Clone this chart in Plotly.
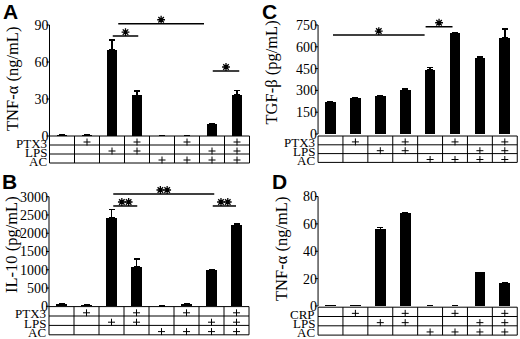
import plotly.graph_objects as go

W, H = 520, 339

# ---------------- data ----------------
conditions = list(range(8))                      # 8 culture conditions (columns)
rows_abc = ["PTX3", "LPS", "AC"]
rows_d = ["CRP", "LPS", "AC"]
row1_marks = ["", "+", "", "+", "", "+", "", "+"]   # PTX3 / CRP
lps_marks = ["", "", "+", "+", "", "", "+", "+"]
ac_marks = ["", "", "", "", "+", "+", "+", "+"]

tnf_a = [0.6, 0.6, 70, 33, 0.4, 0.4, 9.5, 33.5]
tnf_a_err = [0.2, 0.2, 8, 3.5, 0.1, 0.1, 0.5, 3.5]
il10_b = [55, 40, 2430, 1070, 8, 60, 990, 2220]
il10_b_err = [8, 8, 220, 230, 0, 8, 0, 40]
tgfb_c = [219, 251, 261, 304, 441, 695, 522, 660]
tgfb_c_err = [6, 0, 0, 7, 17, 3, 12, 62]
tnf_d = [0.4, 0.4, 56, 68, 0.2, 0.2, 24.5, 16.8]
tnf_d_err = [0.1, 0.1, 1.5, 0.3, 0, 0, 0, 0.3]

ticks_a = [0, 30, 60, 90]
ticks_b = [0, 500, 1000, 1500, 2000, 2500, 3000]
ticks_c = [0, 150, 300, 450, 600, 750]
ticks_d = [0, 20, 40, 60, 80]

titles = ["TNF-α (ng/mL)", "IL-10 (pg/mL)", "TGF-β (pg/mL)", "TNF-α (ng/mL)"]
letters = ["A", "B", "C", "D"]

# significance brackets: (from, to, height, number of stars)
sig_a = [(2.03, 3.05, 81, 1), (2.25, 5.68, 91, 1), (6.03, 7.09, 52.7, 1)]
sig_b = [(2.07, 3.03, 2746, 2), (2.07, 6.11, 3074, 2), (6.05, 6.98, 2746, 2)]
sig_c = [(0.10, 3.78, 681, 1), (3.82, 4.90, 738, 1)]
sig_d = []

# ---------------- layout geometry (pixels) ----------------
panels = [
    dict(vals=tnf_a, err=tnf_a_err, ticks=ticks_a, sig=sig_a, rows=rows_abc,
         c0=62, w=25, zero=136, top_px=25, toff=0, rh=9, ptop=3, pbot=165,
         title_xy=(12, 79), letter_xy=(10, 11)),
    dict(vals=il10_b, err=il10_b_err, ticks=ticks_b, sig=sig_b, rows=rows_abc,
         c0=61.5, w=25, zero=306.3, top_px=196.7, toff=0.3, rh=9.4, ptop=172, pbot=337,
         title_xy=(11, 245), letter_xy=(9, 181)),
    dict(vals=tgfb_c, err=tgfb_c_err, ticks=ticks_c, sig=sig_c, rows=rows_abc,
         c0=330.5, w=24.9, zero=134, top_px=25, toff=2, rh=8.8, ptop=3, pbot=165,
         title_xy=(270.5, 73), letter_xy=(269, 11)),
    dict(vals=tnf_d, err=tnf_d_err, ticks=ticks_d, sig=sig_d, rows=rows_d,
         c0=330.5, w=24.9, zero=306, top_px=196.5, toff=1.2, rh=9.3, ptop=172, pbot=337,
         title_xy=(281, 249), letter_xy=(279, 181)),
]

SERIF = "Liberation Serif"
TICKLEN = 3
fig = go.Figure()
shapes = []
annotations = []
layout_axes = {}

for k, p in enumerate(panels, start=1):
    xa = "x" if k == 1 else f"x{k}"
    ya = "y" if k == 1 else f"y{k}"
    top_tick = p["ticks"][-1]
    s = (p["zero"] - p["top_px"]) / top_tick          # px per unit
    y_lo = (p["zero"] - p["pbot"]) / s
    y_hi = (p["zero"] - p["ptop"]) / s
    left = p["c0"] - 0.5 * p["w"]
    right = p["c0"] + 7.5 * p["w"]
    dom_w = right - left

    fig.add_trace(go.Bar(
        x=conditions, y=p["vals"], xaxis=xa, yaxis=ya, width=0.43,
        marker=dict(color="black", line=dict(width=0)),
        error_y=dict(type="data", symmetric=False, array=p["err"],
                     arrayminus=[0] * len(p["err"]), color="black",
                     thickness=1.5, width=3),
        showlegend=False, hoverinfo="skip"))

    layout_axes["xaxis" if k == 1 else f"xaxis{k}"] = dict(
        domain=[left / W, right / W], range=[-0.5, 7.5], anchor=ya,
        showticklabels=False, showgrid=False, zeroline=False, showline=False,
        ticks="", fixedrange=True)
    layout_axes["yaxis" if k == 1 else f"yaxis{k}"] = dict(
        domain=[1 - p["pbot"] / H, 1 - p["ptop"] / H], range=[y_lo, y_hi], anchor=xa,
        tickmode="array", tickvals=p["ticks"], ticks="",
        showgrid=False, zeroline=False, fixedrange=True,
        showline=False, tickfont=dict(family=SERIF, size=14, color="black"))

    # y axis line from 0 to top tick, with small outside ticks
    shapes.append(dict(type="line", xref=f"{xa} domain", yref=ya, x0=0, x1=0,
                       y0=0, y1=top_tick, line=dict(color="black", width=1)))
    for t in p["ticks"]:
        shapes.append(dict(type="line", xref=f"{xa} domain", yref=ya,
                           x0=-TICKLEN / dom_w, x1=0, y0=t, y1=t,
                           line=dict(color="black", width=1)))

    # table below the bars
    row_y = [-(p["toff"] + i * p["rh"]) / s for i in range(4)]
    for yv in row_y:
        shapes.append(dict(type="line", xref=f"{xa} domain", yref=ya, x0=0, x1=1,
                           y0=yv, y1=yv, line=dict(color="black", width=1)))
    for xd in (0, 1):
        shapes.append(dict(type="line", xref=f"{xa} domain", yref=ya, x0=xd, x1=xd,
                           y0=row_y[0], y1=row_y[-1], line=dict(color="black", width=1)))
    for i in range(len(conditions) - 1):
        shapes.append(dict(type="line", xref=xa, yref=ya, x0=i + 0.5, x1=i + 0.5,
                           y0=row_y[0], y1=row_y[-1], line=dict(color="black", width=1)))

    marks = [row1_marks, lps_marks, ac_marks]
    px_, py_ = [], []
    for r in range(3):
        yc = (row_y[r] + row_y[r + 1]) / 2
        annotations.append(dict(xref=xa, yref=ya, x=-0.5, y=yc, text=p["rows"][r],
                                showarrow=False, xanchor="right", yanchor="middle",
                                xshift=-1, yshift=-2.5,
                                font=dict(family=SERIF, size=13, color="black")))
        for i, m in enumerate(marks[r]):
            if m == "+":
                px_.append(conditions[i])
                py_.append(yc - 1.5 / s)
    fig.add_trace(go.Scatter(
        x=px_, y=py_, xaxis=xa, yaxis=ya, mode="markers", cliponaxis=False,
        marker=dict(symbol="cross-thin-open", size=5, color="black",
                    line=dict(color="black", width=1)),
        showlegend=False, hoverinfo="skip"))

    # significance brackets
    sx, sy = [], []
    for x0, x1, yv, n in p["sig"]:
        shapes.append(dict(type="line", xref=xa, yref=ya, x0=x0, x1=x1, y0=yv, y1=yv,
                           line=dict(color="black", width=1.5)))
        mid = (x0 + x1) / 2
        offs = [0] if n == 1 else [-3.4, 3.4]
        for o in offs:
            sx.append(mid + o / p["w"])
            sy.append(yv + 4 / s)
    if sx:
        fig.add_trace(go.Scatter(
            x=sx, y=sy, xaxis=xa, yaxis=ya, mode="markers", cliponaxis=False,
            marker=dict(symbol="asterisk-open", size=6.5, color="black",
                        line=dict(color="black", width=1.3)),
            showlegend=False, hoverinfo="skip"))

    # y axis title and panel letter
    tx, ty = p["title_xy"]
    annotations.append(dict(xref="paper", yref="paper", x=tx / W, y=1 - ty / H,
                            text=titles[k - 1], textangle=-90, showarrow=False,
                            xanchor="center", yanchor="middle",
                            font=dict(family=SERIF, size=16.5, color="black")))
    lx, ly = p["letter_xy"]
    annotations.append(dict(xref="paper", yref="paper", x=lx / W, y=1 - ly / H,
                            text=f"<b>{letters[k - 1]}</b>", showarrow=False,
                            xanchor="center", yanchor="middle",
                            font=dict(family="Liberation Sans", size=21, color="black")))

fig.update_layout(
    width=W, height=H, margin=dict(l=0, r=0, t=0, b=0),
    paper_bgcolor="white", plot_bgcolor="white", hovermode=False,
    shapes=shapes, annotations=annotations, bargap=0, **layout_axes)

fig.write_html("out.html", config={"displayModeBar": False, "staticPlot": True},
               post_script="document.body.style.margin='0px';")
